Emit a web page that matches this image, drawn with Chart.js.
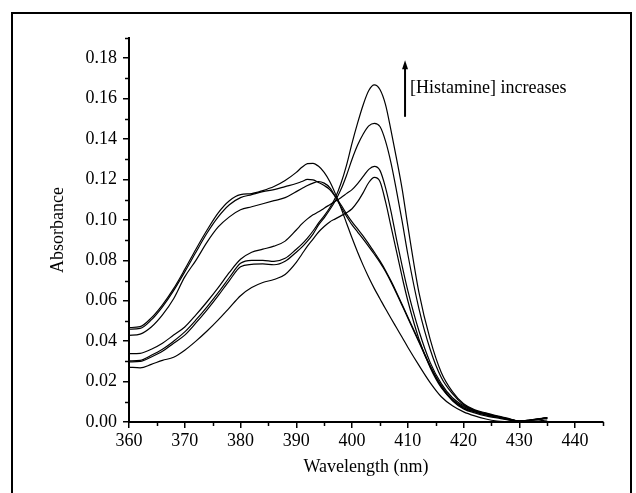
<!DOCTYPE html>
<html><head><meta charset="utf-8">
<script src="https://cdn.jsdelivr.net/npm/chart.js@4.4.0/dist/chart.umd.min.js"></script>
<style>
html,body{margin:0;padding:0;background:#fff;overflow:hidden}
#wrap{position:relative;width:636px;height:493px}
#frame{position:absolute;left:11px;top:12px;width:621px;height:500px;border:2px solid #000;box-sizing:border-box}
canvas{position:absolute;left:0;top:0}
</style></head><body>
<div id="wrap"><div id="frame"></div><canvas id="c" width="636" height="493"></canvas></div>
<script>
// Wavelength grid (nm)
const wavelengths = [360,362,364,366,368,370,372,374,376,378,380,382,384,386,388,
  390,391,392,393,394,395,396,397,398,399,400,401,402,403,404,405,406,407,408,409,410,
  412,414,416,418,420,422,424,426,428,430,432,435];

// Absorbance spectra (7 titration curves)
const specU1 = [0.0467,0.0472,0.0515,0.0580,0.0660,0.0755,0.0855,0.0950,0.1035,0.1095,0.1125,0.1130,0.1145,0.1165,0.1195,
  0.1235,0.1260,0.1278,0.1280,0.1265,0.1235,0.1190,0.1130,0.1060,0.0985,0.0910,0.0840,0.0775,0.0715,0.0660,0.0610,0.0560,0.0512,0.0465,0.0418,0.0370,
  0.0280,0.0195,0.0125,0.0080,0.0050,0.0030,0.0015,0.0005,0.0000,-0.0005,0.0000,0.0010];
const specU2 = [0.0459,0.0463,0.0505,0.0570,0.0650,0.0743,0.0840,0.0935,0.1015,0.1075,0.1110,0.1125,0.1140,0.1150,0.1165,
  0.1180,0.1190,0.1200,0.1198,0.1185,0.1170,0.1150,0.1115,0.1075,0.1030,0.0990,0.0955,0.0920,0.0880,0.0840,0.0797,0.0750,0.0697,0.0640,0.0580,0.0520,
  0.0400,0.0280,0.0180,0.0110,0.0070,0.0050,0.0035,0.0025,0.0015,0.0005,0.0008,0.0018];
const specU3 = [0.0429,0.0435,0.0470,0.0530,0.0610,0.0718,0.0800,0.0890,0.0965,0.1015,0.1050,0.1065,0.1080,0.1095,0.1110,
  0.1140,0.1155,0.1170,0.1182,0.1190,0.1182,0.1160,0.1115,0.1065,0.1018,0.0975,0.0940,0.0905,0.0868,0.0830,0.0790,0.0745,0.0692,0.0635,0.0575,0.0515,
  0.0395,0.0275,0.0175,0.0105,0.0065,0.0045,0.0030,0.0020,0.0010,0.0003,0.0008,0.0020];
const specL1 = [0.0338,0.0340,0.0360,0.0390,0.0430,0.0470,0.0530,0.0595,0.0665,0.0740,0.0805,0.0840,0.0855,0.0870,0.0895,
  0.0950,0.0980,0.1005,0.1025,0.1040,0.1058,0.1075,0.1092,0.1110,0.1130,0.1150,0.1180,0.1215,0.1250,0.1265,0.1245,0.1160,0.1040,0.0900,0.0770,0.0650,
  0.0450,0.0295,0.0190,0.0120,0.0080,0.0055,0.0040,0.0028,0.0015,0.0005,0.0010,0.0020];
const specL2 = [0.0302,0.0305,0.0330,0.0360,0.0400,0.0446,0.0505,0.0570,0.0640,0.0715,0.0785,0.0800,0.0800,0.0795,0.0810,
  0.0855,0.0880,0.0910,0.0945,0.0985,0.1020,0.1060,0.1110,0.1180,0.1270,0.1380,0.1480,0.1570,0.1640,0.1668,0.1645,0.1570,0.1440,0.1300,0.1150,0.0970,
  0.0640,0.0410,0.0245,0.0150,0.0090,0.0060,0.0045,0.0030,0.0018,0.0005,0.0010,0.0022];
const specL3 = [0.0297,0.0300,0.0322,0.0350,0.0390,0.0430,0.0490,0.0555,0.0625,0.0700,0.0768,0.0780,0.0782,0.0778,0.0795,
  0.0840,0.0865,0.0895,0.0930,0.0975,0.1010,0.1050,0.1095,0.1150,0.1220,0.1300,0.1370,0.1425,0.1465,0.1478,0.1462,0.1390,0.1280,0.1140,0.0990,0.0830,
  0.0560,0.0360,0.0220,0.0140,0.0085,0.0058,0.0042,0.0028,0.0016,0.0004,0.0010,0.0020];
const specL4 = [0.0272,0.0268,0.0285,0.0305,0.0320,0.0355,0.0400,0.0450,0.0505,0.0565,0.0625,0.0665,0.0690,0.0705,0.0730,
  0.0790,0.0830,0.0870,0.0905,0.0940,0.0967,0.0990,0.1005,0.1020,0.1035,0.1055,0.1090,0.1135,0.1185,0.1210,0.1190,0.1090,0.0965,0.0840,0.0715,0.0600,
  0.0410,0.0270,0.0170,0.0110,0.0075,0.0052,0.0038,0.0025,0.0012,0.0003,0.0010,0.0020];

// Tick labels
const xMajorTicks = [360,370,380,390,400,410,420,430,440];
const xMinorTicks = [365,375,385,395,405,415,425,435,445];
const yMajorTicks = [0.00,0.02,0.04,0.06,0.08,0.10,0.12,0.14,0.16,0.18];
const yMinorTicks = [0.01,0.03,0.05,0.07,0.09,0.11,0.13,0.15,0.17,0.19];

const xTitle = 'Wavelength (nm)';
const yTitle = 'Absorbance';
const annotText = '[Histamine] increases';
// annotation anchor in data units
const arrowAt = {x: 409.5, yFrom: 0.151, yTo: 0.179};
const textAt = {x: 410.4, y: 0.165};

const allSpectra = [specU1, specU2, specU3, specL1, specL2, specL3, specL4];
const datasets = allSpectra.map(s => ({
  data: wavelengths.map((w, i) => ({x: w, y: s[i]})),
  borderColor: '#000',
  borderWidth: 1.2,
  pointRadius: 0,
  fill: false,
  cubicInterpolationMode: 'monotone'
}));

const serif = "'Liberation Serif', 'Times New Roman', serif";
Chart.defaults.font.family = serif;
Chart.defaults.color = '#000';

const decor = {
  id: 'decor',
  afterDraw(chart) {
    const ctx = chart.ctx;
    const xs = chart.scales.x, ys = chart.scales.y;
    ctx.save();
    ctx.strokeStyle = '#000';
    ctx.lineWidth = 1.5;
    // minor ticks
    const x0 = xs.getPixelForValue(xs.min), yb = ys.getPixelForValue(0);
    xMinorTicks.forEach(v => {
      const px = Math.round(xs.getPixelForValue(v)) + 0.5;
      ctx.beginPath(); ctx.moveTo(px, yb); ctx.lineTo(px, yb + 4); ctx.stroke();
    });
    yMinorTicks.forEach(v => {
      const py = Math.round(ys.getPixelForValue(v)) + 0.5;
      ctx.beginPath(); ctx.moveTo(x0, py); ctx.lineTo(x0 - 4, py); ctx.stroke();
    });
    // arrow
    const ax = xs.getPixelForValue(arrowAt.x);
    const ay0 = ys.getPixelForValue(arrowAt.yFrom);
    const ay1 = ys.getPixelForValue(arrowAt.yTo);
    ctx.lineWidth = 2;
    ctx.beginPath(); ctx.moveTo(ax, ay0); ctx.lineTo(ax, ay1 + 6); ctx.stroke();
    ctx.fillStyle = '#000';
    ctx.beginPath(); ctx.moveTo(ax, ay1); ctx.lineTo(ax - 3, ay1 + 9); ctx.lineTo(ax + 3, ay1 + 9); ctx.closePath(); ctx.fill();
    // text
    ctx.font = '18px ' + serif;
    ctx.textAlign = 'left';
    ctx.textBaseline = 'middle';
    ctx.fillText(annotText, xs.getPixelForValue(textAt.x), ys.getPixelForValue(textAt.y));
    ctx.restore();
  }
};

new Chart(document.getElementById('c'), {
  type: 'line',
  data: {datasets},
  options: {
    responsive: false,
    animation: false,
    devicePixelRatio: 1,
    layout: {padding: {top: 38, right: 33, bottom: 0, left: 0}},
    plugins: {legend: {display: false}, tooltip: {enabled: false}},
    scales: {
      x: {
        type: 'linear',
        min: 360, max: 445,
        afterFit(s) { s.height = 71; },
        afterBuildTicks(s) { s.ticks = xMajorTicks.map(v => ({value: v})); },
        grid: {display: true, drawOnChartArea: false, drawTicks: true, tickLength: 6, color: '#000', lineWidth: 1.5},
        border: {display: true, color: '#000', width: 2},
        ticks: {autoSkip: false, maxRotation: 0, padding: 2, font: {size: 18, family: serif}, color: '#000',
          callback: v => String(v)},
        title: {display: true, text: xTitle, font: {size: 18, family: serif}, color: '#000', padding: {top: 0, bottom: 15}}
      },
      y: {
        type: 'linear',
        min: 0, max: 0.19,
        afterFit(s) { s.width = 129; },
        afterBuildTicks(s) { s.ticks = yMajorTicks.map(v => ({value: v})); },
        grid: {display: true, drawOnChartArea: false, drawTicks: true, tickLength: 6, color: '#000', lineWidth: 1.5},
        border: {display: true, color: '#000', width: 2},
        ticks: {autoSkip: false, padding: 6, font: {size: 18, family: serif}, color: '#000',
          callback: v => Number(v).toFixed(2)},
        title: {display: true, text: yTitle, font: {size: 18, family: serif}, color: '#000', padding: {top: 47, bottom: 0}}
      }
    }
  },
  plugins: [decor]
});
</script>
</body></html>
